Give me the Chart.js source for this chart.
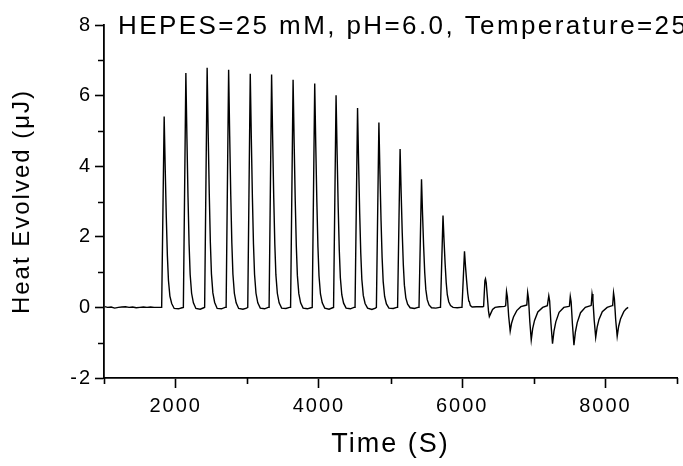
<!DOCTYPE html>
<html>
<head>
<meta charset="utf-8">
<script src="https://cdn.jsdelivr.net/npm/chart.js@4.4.1/dist/chart.umd.min.js"></script>
<style>
  html, body { margin: 0; padding: 0; background: #fff; }
  #wrap { width: 683px; height: 466px; }
</style>
</head>
<body>
<div id="wrap"><canvas id="itc"></canvas></div>
<script>
// raw thermogram (s, uJ)
const time = [
  1010, 1050, 1100, 1150, 1200, 1250, 1300, 1350, 1400, 1450, 1500, 1550, 1600, 1650, 1700, 1750,
  1805, 1840, 1855, 1870, 1885, 1900, 1920, 1945, 1980, 2040, 2090,
  2108, 2143, 2158, 2173, 2188, 2203, 2223, 2248, 2283, 2343, 2393,
  2405, 2440, 2455, 2470, 2485, 2500, 2520, 2545, 2580, 2640, 2690,
  2705, 2740, 2755, 2770, 2785, 2800, 2820, 2845, 2880, 2940, 2990,
  3007, 3042, 3057, 3072, 3087, 3102, 3122, 3147, 3182, 3242, 3292,
  3305, 3340, 3355, 3370, 3385, 3400, 3420, 3445, 3480, 3540, 3590,
  3605, 3640, 3655, 3670, 3685, 3700, 3720, 3745, 3780, 3840, 3890,
  3907, 3942, 3957, 3972, 3987, 4002, 4022, 4047, 4082, 4142, 4192,
  4205, 4240, 4255, 4270, 4285, 4300, 4320, 4345, 4380, 4440, 4490,
  4505, 4540, 4555, 4570, 4585, 4600, 4620, 4645, 4680, 4740, 4790,
  4803, 4838, 4853, 4868, 4883, 4898, 4918, 4943, 4978, 5038, 5088,
  5099, 5134, 5149, 5164, 5179, 5194, 5214, 5239, 5274, 5334, 5384,
  5398, 5433, 5448, 5463, 5478, 5493, 5513, 5538, 5573, 5633, 5683,
  5698, 5733, 5748, 5763, 5778, 5793, 5813, 5838, 5873, 5933, 5983,
  5998, 6033, 6048, 6063, 6078, 6093, 6100, 6115, 6140, 6200, 6260, 6290,
  6300, 6318, 6326, 6336, 6350, 6368, 6380, 6400, 6425, 6460, 6520, 6595,
  6608, 6620, 6632, 6650, 6671, 6690, 6717, 6763, 6820, 6890,
  6903, 6915, 6927, 6945, 6965, 6985, 7011, 7057, 7125, 7190,
  7198, 7210, 7222, 7240, 7262, 7282, 7308, 7354, 7420, 7490,
  7498, 7510, 7522, 7540, 7561, 7581, 7607, 7653, 7720, 7795,
  7802, 7814, 7826, 7844, 7865, 7885, 7911, 7957, 8025, 8095,
  8102, 8114, 8126, 8144, 8165, 8185, 8211, 8257, 8290, 8318
];
const heat = [
  0.02, 0.00, 0.01, -0.02, 0.00, 0.01, 0.02, 0.00, 0.01, -0.01, 0.00, 0.01, 0.00, 0.01, 0.00, 0.00,
  0.00, 5.41, 3.90, 2.54, 1.46, 0.76, 0.32, 0.11, -0.03, -0.04, -0.01,
  0.00, 6.64, 4.78, 3.12, 1.79, 0.93, 0.40, 0.13, -0.03, -0.05, -0.01,
  0.00, 6.79, 4.89, 3.19, 1.83, 0.95, 0.41, 0.14, -0.03, -0.04, 0.00,
  0.00, 6.73, 4.85, 3.16, 1.82, 0.94, 0.40, 0.13, -0.03, -0.05, -0.02,
  0.00, 6.62, 4.77, 3.11, 1.79, 0.93, 0.40, 0.13, -0.02, -0.04, 0.00,
  0.00, 6.60, 4.75, 3.10, 1.78, 0.92, 0.40, 0.13, -0.02, -0.03, 0.00,
  0.00, 6.45, 4.64, 3.03, 1.74, 0.90, 0.39, 0.13, -0.02, -0.04, -0.01,
  0.00, 6.34, 4.56, 2.98, 1.71, 0.89, 0.38, 0.13, -0.02, -0.05, -0.01,
  0.00, 6.01, 4.33, 2.82, 1.62, 0.84, 0.36, 0.12, -0.02, -0.04, 0.00,
  0.00, 5.65, 4.07, 2.66, 1.53, 0.79, 0.34, 0.11, -0.02, -0.06, -0.02,
  0.00, 5.24, 3.77, 2.46, 1.41, 0.73, 0.31, 0.10, -0.02, -0.03, 0.00,
  0.00, 4.49, 3.23, 2.11, 1.21, 0.63, 0.27, 0.09, -0.01, -0.03, 0.00,
  0.00, 3.63, 2.61, 1.71, 0.98, 0.51, 0.22, 0.07, -0.01, -0.02, 0.00,
  0.00, 2.60, 1.87, 1.22, 0.70, 0.36, 0.16, 0.05, 0.00, -0.01, 0.00,
  0.00, 1.59, 1.14, 0.75, 0.40, 0.18, 0.17, 0.05, 0.01, 0.02, 0.02, 0.02,
  0.03, 0.76, 0.81, 0.70, 0.35, -0.10, -0.26, -0.17, -0.06, 0.00, 0.02, 0.03,
  0.05, 0.45, 0.30, -0.25, -0.67, -0.45, -0.27, -0.09, 0.02, 0.06,
  0.07, 0.42, 0.25, -0.40, -0.92, -0.60, -0.37, -0.13, 0.00, 0.05,
  0.05, 0.33, 0.18, -0.45, -1.03, -0.68, -0.41, -0.14, 0.00, 0.03,
  0.04, 0.31, 0.16, -0.47, -1.07, -0.70, -0.43, -0.15, 0.00, 0.05,
  0.06, 0.38, 0.22, -0.36, -0.85, -0.56, -0.34, -0.12, 0.00, 0.05,
  0.06, 0.41, 0.24, -0.35, -0.82, -0.54, -0.33, -0.12, -0.04, 0.00
];

const xLabelled = [2000, 4000, 6000, 8000];
const xMinor = [1000, 3000, 5000, 7000, 9000];
const yLabelled = [-2, 0, 2, 4, 6, 8];
const yMinor = [-1, 1, 3, 5, 7];
const note = "HEPES=25 mM, pH=6.0, Temperature=25";

const FONT = '"Liberation Sans", Arial, Helvetica, sans-serif';
Chart.defaults.font.family = FONT;
Chart.defaults.color = "#000";

// Origin-style axes: short minor ticks + the condition note
const extras = {
  id: "extras",
  beforeLayout(chart) { chart.ctx.letterSpacing = "2px"; },
  beforeDraw(chart) { chart.ctx.letterSpacing = "2px"; },
  afterDraw(chart) {
    const { ctx, chartArea, scales } = chart;
    ctx.save();
    ctx.strokeStyle = "#000";
    ctx.lineWidth = 1.6;
    ctx.beginPath();
    xMinor.forEach((v) => {
      const px = Math.round(scales.x.getPixelForValue(v)) + 0.5;
      ctx.moveTo(px, chartArea.bottom);
      ctx.lineTo(px, chartArea.bottom + 6);
    });
    yMinor.forEach((v) => {
      const py = Math.round(scales.y.getPixelForValue(v)) + 0.5;
      ctx.moveTo(chartArea.left, py);
      ctx.lineTo(chartArea.left - 6, py);
    });
    ctx.stroke();

    ctx.letterSpacing = "2.4px";
    ctx.font = "26px " + FONT;
    ctx.fillStyle = "#000";
    ctx.textAlign = "left";
    ctx.textBaseline = "alphabetic";
    ctx.fillText(note, chartArea.left + 14, chartArea.top + 9);
    ctx.restore();
  },
};

new Chart(document.getElementById("itc"), {
  type: "line",
  data: {
    datasets: [
      {
        data: time.map((t, i) => ({ x: t, y: heat[i] })),
        borderColor: "#000",
        borderWidth: 1.4,
        pointRadius: 0,
        tension: 0,
        fill: false,
      },
    ],
  },
  options: {
    responsive: true,
    maintainAspectRatio: false,
    devicePixelRatio: 1,
    animation: false,
    layout: { padding: { top: 25, right: 0, left: 0, bottom: 0 } },
    plugins: { legend: { display: false }, tooltip: { enabled: false } },
    scales: {
      x: {
        type: "linear",
        min: 1000,
        max: 9000,
        afterFit: (s) => { s.height = 88; },
        ticks: {
          stepSize: 1000,
          autoSkip: false,
          maxRotation: 0,
          padding: 6,
          font: { size: 20 },
          callback: (v) => (xLabelled.includes(v) ? v : ""),
        },
        grid: {
          drawOnChartArea: false,
          tickLength: 10,
          tickWidth: 1.6,
          tickColor: (c) => (c.tick && xLabelled.includes(c.tick.value) ? "#000" : "rgba(0,0,0,0)"),
        },
        border: { color: "#000", width: 1.8 },
        title: {
          display: true,
          text: "Time (S)",
          font: { size: 27 },
          padding: { top: 0, bottom: 5 },
        },
      },
      y: {
        min: -2,
        max: 8,
        afterFit: (s) => { s.width = 104; },
        ticks: {
          stepSize: 1,
          autoSkip: false,
          padding: 3,
          font: { size: 20 },
          callback: (v) => (yLabelled.includes(v) ? v : ""),
        },
        grid: {
          drawOnChartArea: false,
          tickLength: 9,
          tickWidth: 1.6,
          tickColor: (c) => (c.tick && yLabelled.includes(c.tick.value) ? "#000" : "rgba(0,0,0,0)"),
        },
        border: { color: "#000", width: 1.8 },
        title: {
          display: true,
          text: "Heat Evolved (\u03bcJ)",
          font: { size: 24 },
          padding: { top: 8, bottom: 0 },
        },
      },
    },
  },
  plugins: [extras],
});
</script>
</body>
</html>
